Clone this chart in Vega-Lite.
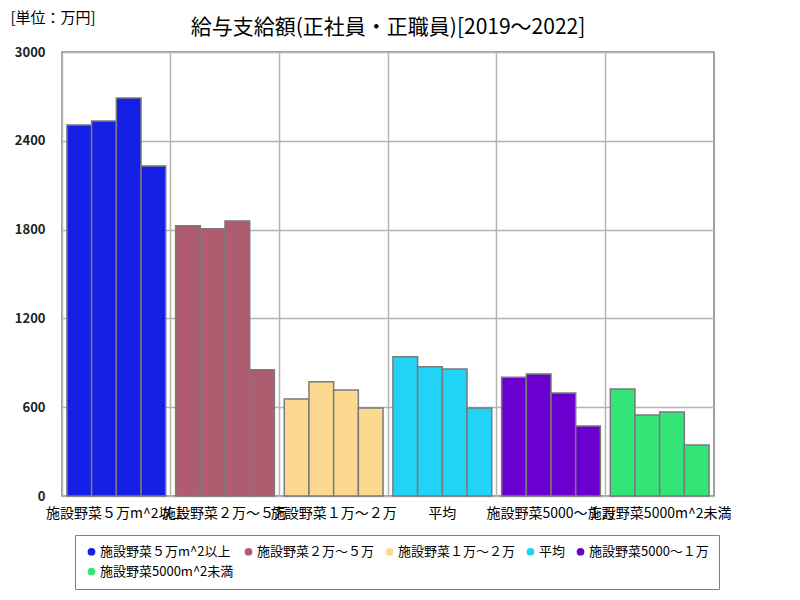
{
  "$schema": "https://vega.github.io/schema/vega-lite/v6.json",
  "autosize": "none",
  "width": 652,
  "height": 444,
  "padding": {"left": 62, "top": 52, "right": 86, "bottom": 104},
  "background": "white",
  "title": {
    "text": "給与支給額(正社員・正職員)[2019～2022]",
    "font": "Noto Sans CJK JP",
    "fontSize": 21,
    "fontWeight": "normal",
    "color": "#000000",
    "anchor": "middle",
    "offset": 8,
    "dy": 36
  },
  "config": {
    "view": {"stroke": "#808080", "strokeWidth": 1.5},
    "font": "Noto Sans CJK JP"
  },
  "data": {
    "values": [
      {"group": "施設野菜５万m^2以上", "year": "2019", "value": 2507},
      {"group": "施設野菜５万m^2以上", "year": "2020", "value": 2534},
      {"group": "施設野菜５万m^2以上", "year": "2021", "value": 2689},
      {"group": "施設野菜５万m^2以上", "year": "2022", "value": 2230},
      {"group": "施設野菜２万～５万", "year": "2019", "value": 1826},
      {"group": "施設野菜２万～５万", "year": "2020", "value": 1806},
      {"group": "施設野菜２万～５万", "year": "2021", "value": 1858},
      {"group": "施設野菜２万～５万", "year": "2022", "value": 853},
      {"group": "施設野菜１万～２万", "year": "2019", "value": 655},
      {"group": "施設野菜１万～２万", "year": "2020", "value": 772},
      {"group": "施設野菜１万～２万", "year": "2021", "value": 716},
      {"group": "施設野菜１万～２万", "year": "2022", "value": 595},
      {"group": "平均", "year": "2019", "value": 941},
      {"group": "平均", "year": "2020", "value": 874},
      {"group": "平均", "year": "2021", "value": 858},
      {"group": "平均", "year": "2022", "value": 595},
      {"group": "施設野菜5000～１万", "year": "2019", "value": 802},
      {"group": "施設野菜5000～１万", "year": "2020", "value": 824},
      {"group": "施設野菜5000～１万", "year": "2021", "value": 696},
      {"group": "施設野菜5000～１万", "year": "2022", "value": 473},
      {"group": "施設野菜5000m^2未満", "year": "2019", "value": 723},
      {"group": "施設野菜5000m^2未満", "year": "2020", "value": 547},
      {"group": "施設野菜5000m^2未満", "year": "2021", "value": 568},
      {"group": "施設野菜5000m^2未満", "year": "2022", "value": 345}
    ]
  },
  "mark": {"type": "bar", "stroke": "#7a7a7a", "strokeWidth": 1.5},
  "encoding": {
    "x": {
      "field": "group",
      "type": "nominal",
      "sort": null,
      "scale": {"paddingInner": 0, "paddingOuter": 0},
      "axis": {
        "title": null,
        "labelAngle": 0,
        "labelOverlap": false,
        "labelFontSize": 14,
        "labelColor": "#000000",
        "labelPadding": 10,
        "labelLimit": 0,
        "ticks": false,
        "domain": false,
        "grid": true,
        "bandPosition": 0,
        "gridColor": "#b4b4b4",
        "gridWidth": 1.5
      }
    },
    "xOffset": {
      "field": "year",
      "type": "nominal",
      "scale": {"paddingInner": 0, "paddingOuter": 0.2}
    },
    "y": {
      "field": "value",
      "type": "quantitative",
      "scale": {"domain": [0, 3000], "nice": false},
      "axis": {
        "values": [0, 600, 1200, 1800, 2400, 3000],
        "format": "d",
        "title": "[単位：万円]",
        "titleAngle": 0,
        "titleAlign": "left",
        "titleBaseline": "middle",
        "titleX": -52,
        "titleY": -35,
        "titleFontSize": 15,
        "titleFontWeight": "normal",
        "titleColor": "#000000",
        "labelFontSize": 13,
        "labelFontWeight": "bold",
        "labelColor": "#222222",
        "labelPadding": 17,
        "ticks": false,
        "domain": false,
        "gridColor": "#b4b4b4",
        "gridWidth": 1.5
      }
    },
    "color": {
      "field": "group",
      "type": "nominal",
      "sort": null,
      "scale": {
        "domain": ["施設野菜５万m^2以上", "施設野菜２万～５万", "施設野菜１万～２万", "平均", "施設野菜5000～１万", "施設野菜5000m^2未満"],
        "range": ["#1420e6", "#b05c70", "#fdd990", "#22d3f8", "#6a00d0", "#33e477"]
      },
      "legend": {
        "orient": "none",
        "legendX": 13,
        "legendY": 483,
        "direction": "horizontal",
        "columns": 5,
        "title": null,
        "symbolType": "circle",
        "symbolSize": 60,
        "symbolStrokeWidth": 0,
        "labelFontSize": 13,
        "labelColor": "#000000",
        "labelLimit": 0,
        "labelOffset": 2,
        "columnPadding": 8,
        "rowPadding": 6,
        "padding": 10,
        "strokeColor": "#808080",
        "fillColor": "white"
      }
    }
  }
}
